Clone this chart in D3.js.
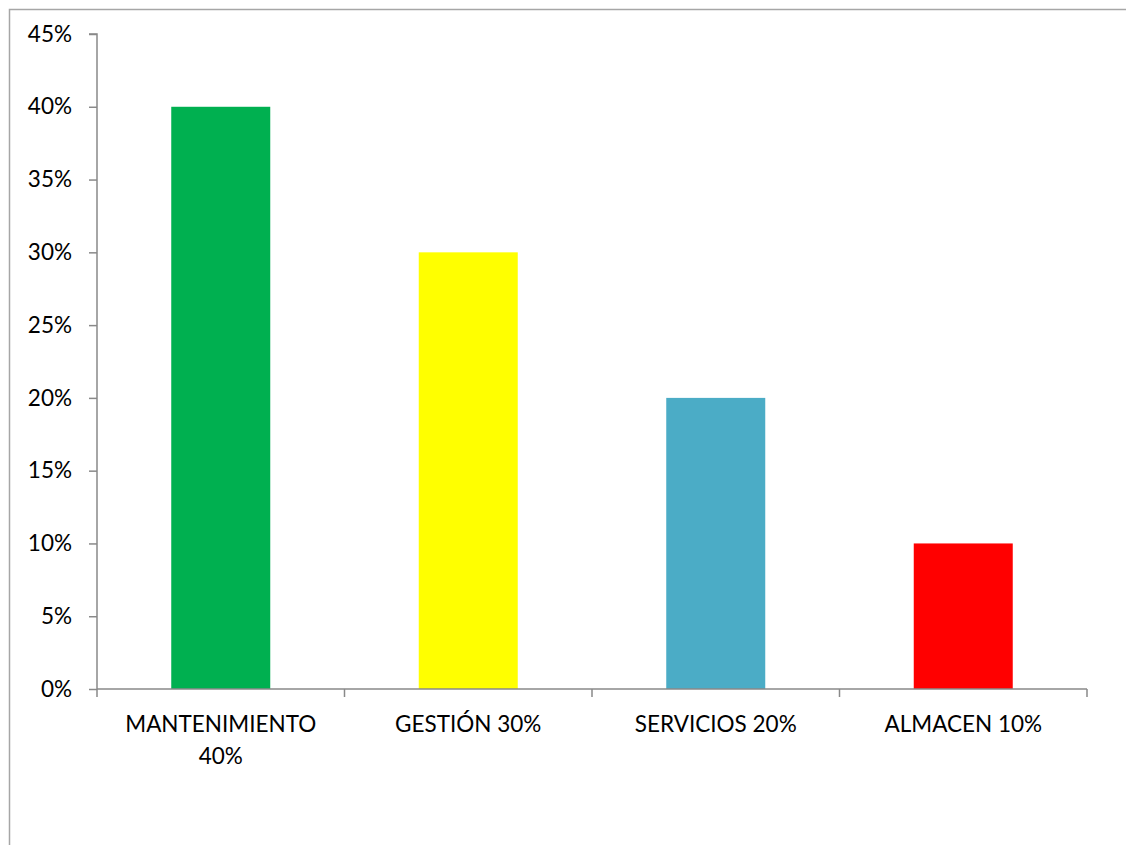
<!DOCTYPE html>
<html>
<head>
<meta charset="utf-8">
<script src="https://cdn.jsdelivr.net/npm/d3@7"></script>
<style>
  body { margin: 0; background: #fff; }
  text { font-family: Lato, "Open Sans", sans-serif; fill: #000; }
</style>
</head>
<body>
<div id="chart"></div>
<script>
const categories = ["MANTENIMIENTO 40%", "GESTIÓN 30%", "SERVICIOS 20%", "ALMACEN 10%"];
const labelLines = [["MANTENIMIENTO", "40%"], ["GESTIÓN 30%"], ["SERVICIOS 20%"], ["ALMACEN 10%"]];
const values = [0.40, 0.30, 0.20, 0.10];
const colors = ["#00B050", "#FFFF00", "#4BACC6", "#FF0000"];
const yTicks = [0, 0.05, 0.10, 0.15, 0.20, 0.25, 0.30, 0.35, 0.40, 0.45];

const svg = d3.select("#chart").append("svg").attr("width", 1126).attr("height", 845);

// chart area border
svg.append("rect")
  .attr("x", 9.5).attr("y", 9.5).attr("width", 1130).attr("height", 850)
  .attr("fill", "#fff").attr("stroke", "#a6a6a6").attr("stroke-width", 1.5);

const plotLeft = 97, plotRight = 1087, plotTop = 34, plotBottom = 689;
const fontSize = 22.5;

const x = d3.scaleBand().domain(categories).range([plotLeft, plotRight]).paddingInner(0.6).paddingOuter(0.3);
const y = d3.scaleLinear().domain([0, 0.45]).range([plotBottom, plotTop]);

svg.selectAll("rect.bar").data(values)
  .join("rect")
    .attr("class", "bar")
    .attr("x", (d, i) => x(categories[i]))
    .attr("width", x.bandwidth())
    .attr("y", d => y(d))
    .attr("height", d => y(0) - y(d))
    .attr("fill", (d, i) => colors[i]);

// y axis
const yAxis = svg.append("g").attr("transform", `translate(${plotLeft},0)`)
  .call(d3.axisLeft(y).tickValues(yTicks).tickFormat(d3.format(".0%")).tickSize(8).tickPadding(17));
yAxis.selectAll("path, line").attr("stroke", "#898989").attr("stroke-width", 1.5);
yAxis.select(".domain").attr("d", `M-8,${plotTop}H0V${plotBottom}`);
yAxis.selectAll("text").attr("font-size", fontSize).attr("font-family", null).attr("fill", "#000");

// x axis (ticks at category boundaries)
const xg = svg.append("g");
xg.append("line").attr("x1", plotLeft).attr("x2", plotRight).attr("y1", plotBottom).attr("y2", plotBottom)
  .attr("stroke", "#898989").attr("stroke-width", 1.5);
const bScale = d3.scaleLinear().domain([0, categories.length]).range([plotLeft, plotRight]);
xg.selectAll("line.tick").data(d3.range(categories.length + 1))
  .join("line").attr("class", "tick")
    .attr("x1", d => bScale(d)).attr("x2", d => bScale(d))
    .attr("y1", plotBottom).attr("y2", plotBottom + 8)
    .attr("stroke", "#898989").attr("stroke-width", 1.5);

const labels = xg.selectAll("text.lab").data(labelLines)
  .join("text").attr("class", "lab")
    .attr("text-anchor", "middle")
    .attr("font-size", fontSize)
    .attr("x", (d, i) => x(categories[i]) + x.bandwidth() / 2)
    .attr("y", plotBottom + 43);
labels.selectAll("tspan").data(d => d)
  .join("tspan")
    .attr("x", function() { return this.parentNode.getAttribute("x"); })
    .attr("dy", (d, i) => i === 0 ? 0 : 32)
    .text(d => d);
</script>
</body>
</html>
